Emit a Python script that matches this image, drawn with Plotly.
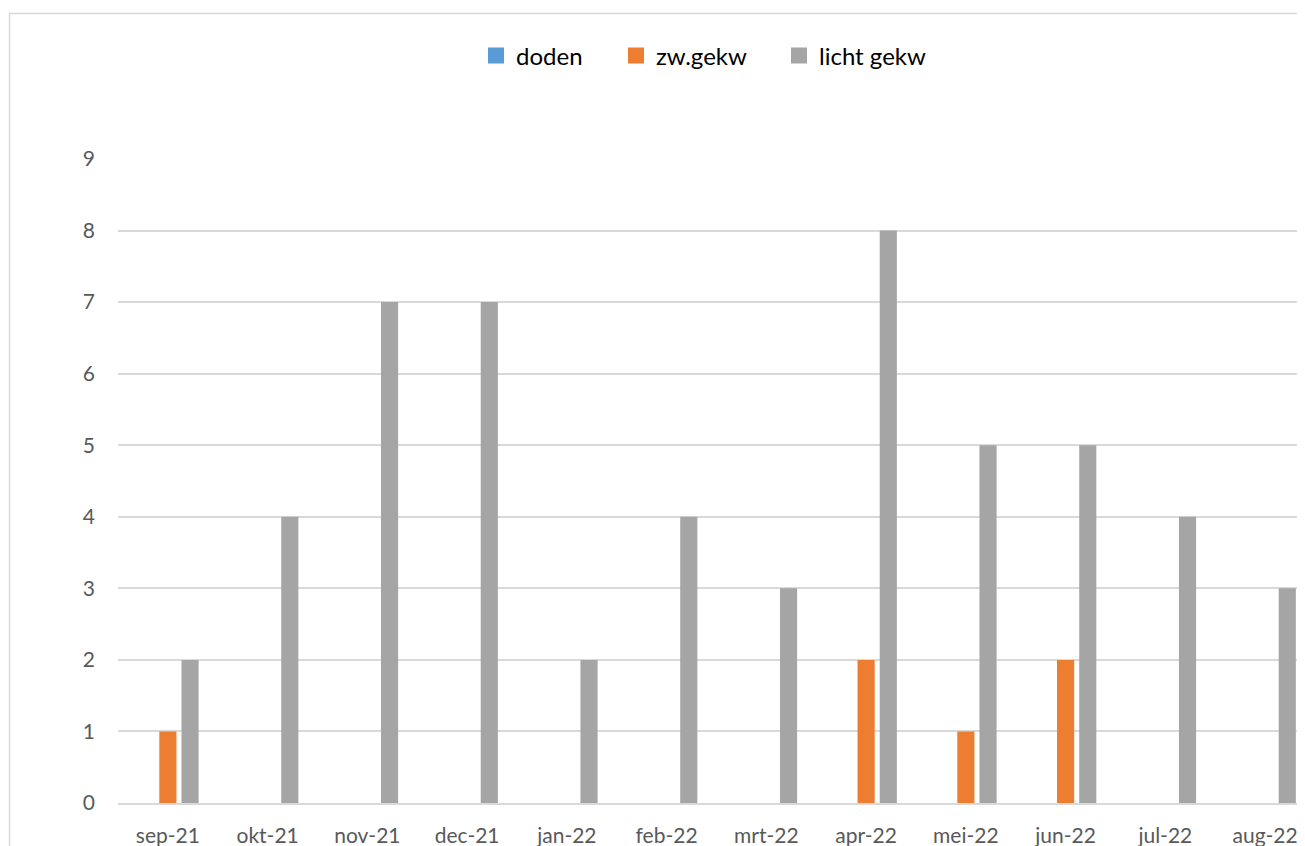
import plotly.graph_objects as go

categories = ["sep-21", "okt-21", "nov-21", "dec-21", "jan-22", "feb-22",
              "mrt-22", "apr-22", "mei-22", "jun-22", "jul-22", "aug-22"]
doden = [0, 0, 0, 0, 0, 0, 0, 0, 0, 0, 0, 0]
zw_gekw = [1, 0, 0, 0, 0, 0, 0, 2, 1, 2, 0, 0]
licht_gekw = [2, 4, 7, 7, 2, 4, 3, 8, 5, 5, 4, 3]
y_ticks = [0, 1, 2, 3, 4, 5, 6, 7, 8, 9]

series = [("doden", doden, "#5B9BD5"),
          ("zw.gekw", zw_gekw, "#ED7D31"),
          ("licht gekw", licht_gekw, "#A5A5A5")]

OFF = 8  # page body margin
W, H = 1305 - OFF, 846 - OFF
L, R, T = 118 - OFF, 0, 159 - OFF
B = H - (803 - OFF)
pw, ph = W - L - R, H - T - B

def px_x(p):
    return (p - OFF - L) / pw

def px_y(p):
    return (H - B - (p - OFF)) / ph

font_family = "Lato, 'Open Sans', sans-serif"

fig = go.Figure()
legend_names = ["legend", "legend2", "legend3"]
legend_x = [489, 629, 792]
for (name, vals, col), lg in zip(series, legend_names):
    fig.add_trace(go.Bar(name=name, x=categories, y=vals, marker_color=col,
                         marker_line_width=0, showlegend=False))
    fig.add_trace(go.Scatter(name=name, x=[None], y=[None], mode="markers",
                             marker=dict(symbol="square", size=16, color=col,
                                         line=dict(width=0)),
                             legend=lg, showlegend=True))

layout_legends = {}
for lg, lx in zip(legend_names, legend_x):
    layout_legends[lg] = dict(orientation="h", x=px_x(lx - 13), xanchor="left",
                              y=px_y(56), yanchor="middle",
                              font=dict(size=24, color="#000000", family=font_family),
                              itemwidth=30, bgcolor="rgba(0,0,0,0)")

fig.update_layout(
    width=W, height=H,
    margin=dict(l=L, r=R, t=T, b=B, autoexpand=False),
    paper_bgcolor="white", plot_bgcolor="white",
    barmode="group", bargap=0.333, bargroupgap=0.227,
    font=dict(family=font_family, color="#595959", size=21),
    xaxis=dict(type="category", range=[-0.5, 11.4], showgrid=False,
               showline=True, linecolor="#D9D9D9", linewidth=1.5,
               ticks="", ticklabelstandoff=13, automargin=False,
               tickfont=dict(size=21, color="#595959")),
    yaxis=dict(range=[0, 9], tickvals=y_ticks, showgrid=True,
               gridcolor="#D9D9D9", gridwidth=1.5, zeroline=False,
               showline=False, ticks="", ticklabelstandoff=22,
               automargin=False, fixedrange=True,
               tickfont=dict(size=21, color="#595959")),
    shapes=[dict(type="rect", xref="paper", yref="paper",
                 x0=px_x(9.5), x1=px_x(1400), y0=px_y(1000), y1=px_y(13.5),
                 line=dict(color="#D9D9D9", width=1.5), fillcolor="rgba(0,0,0,0)",
                 layer="below")],
    **layout_legends,
)

fig.write_html("out.html")
